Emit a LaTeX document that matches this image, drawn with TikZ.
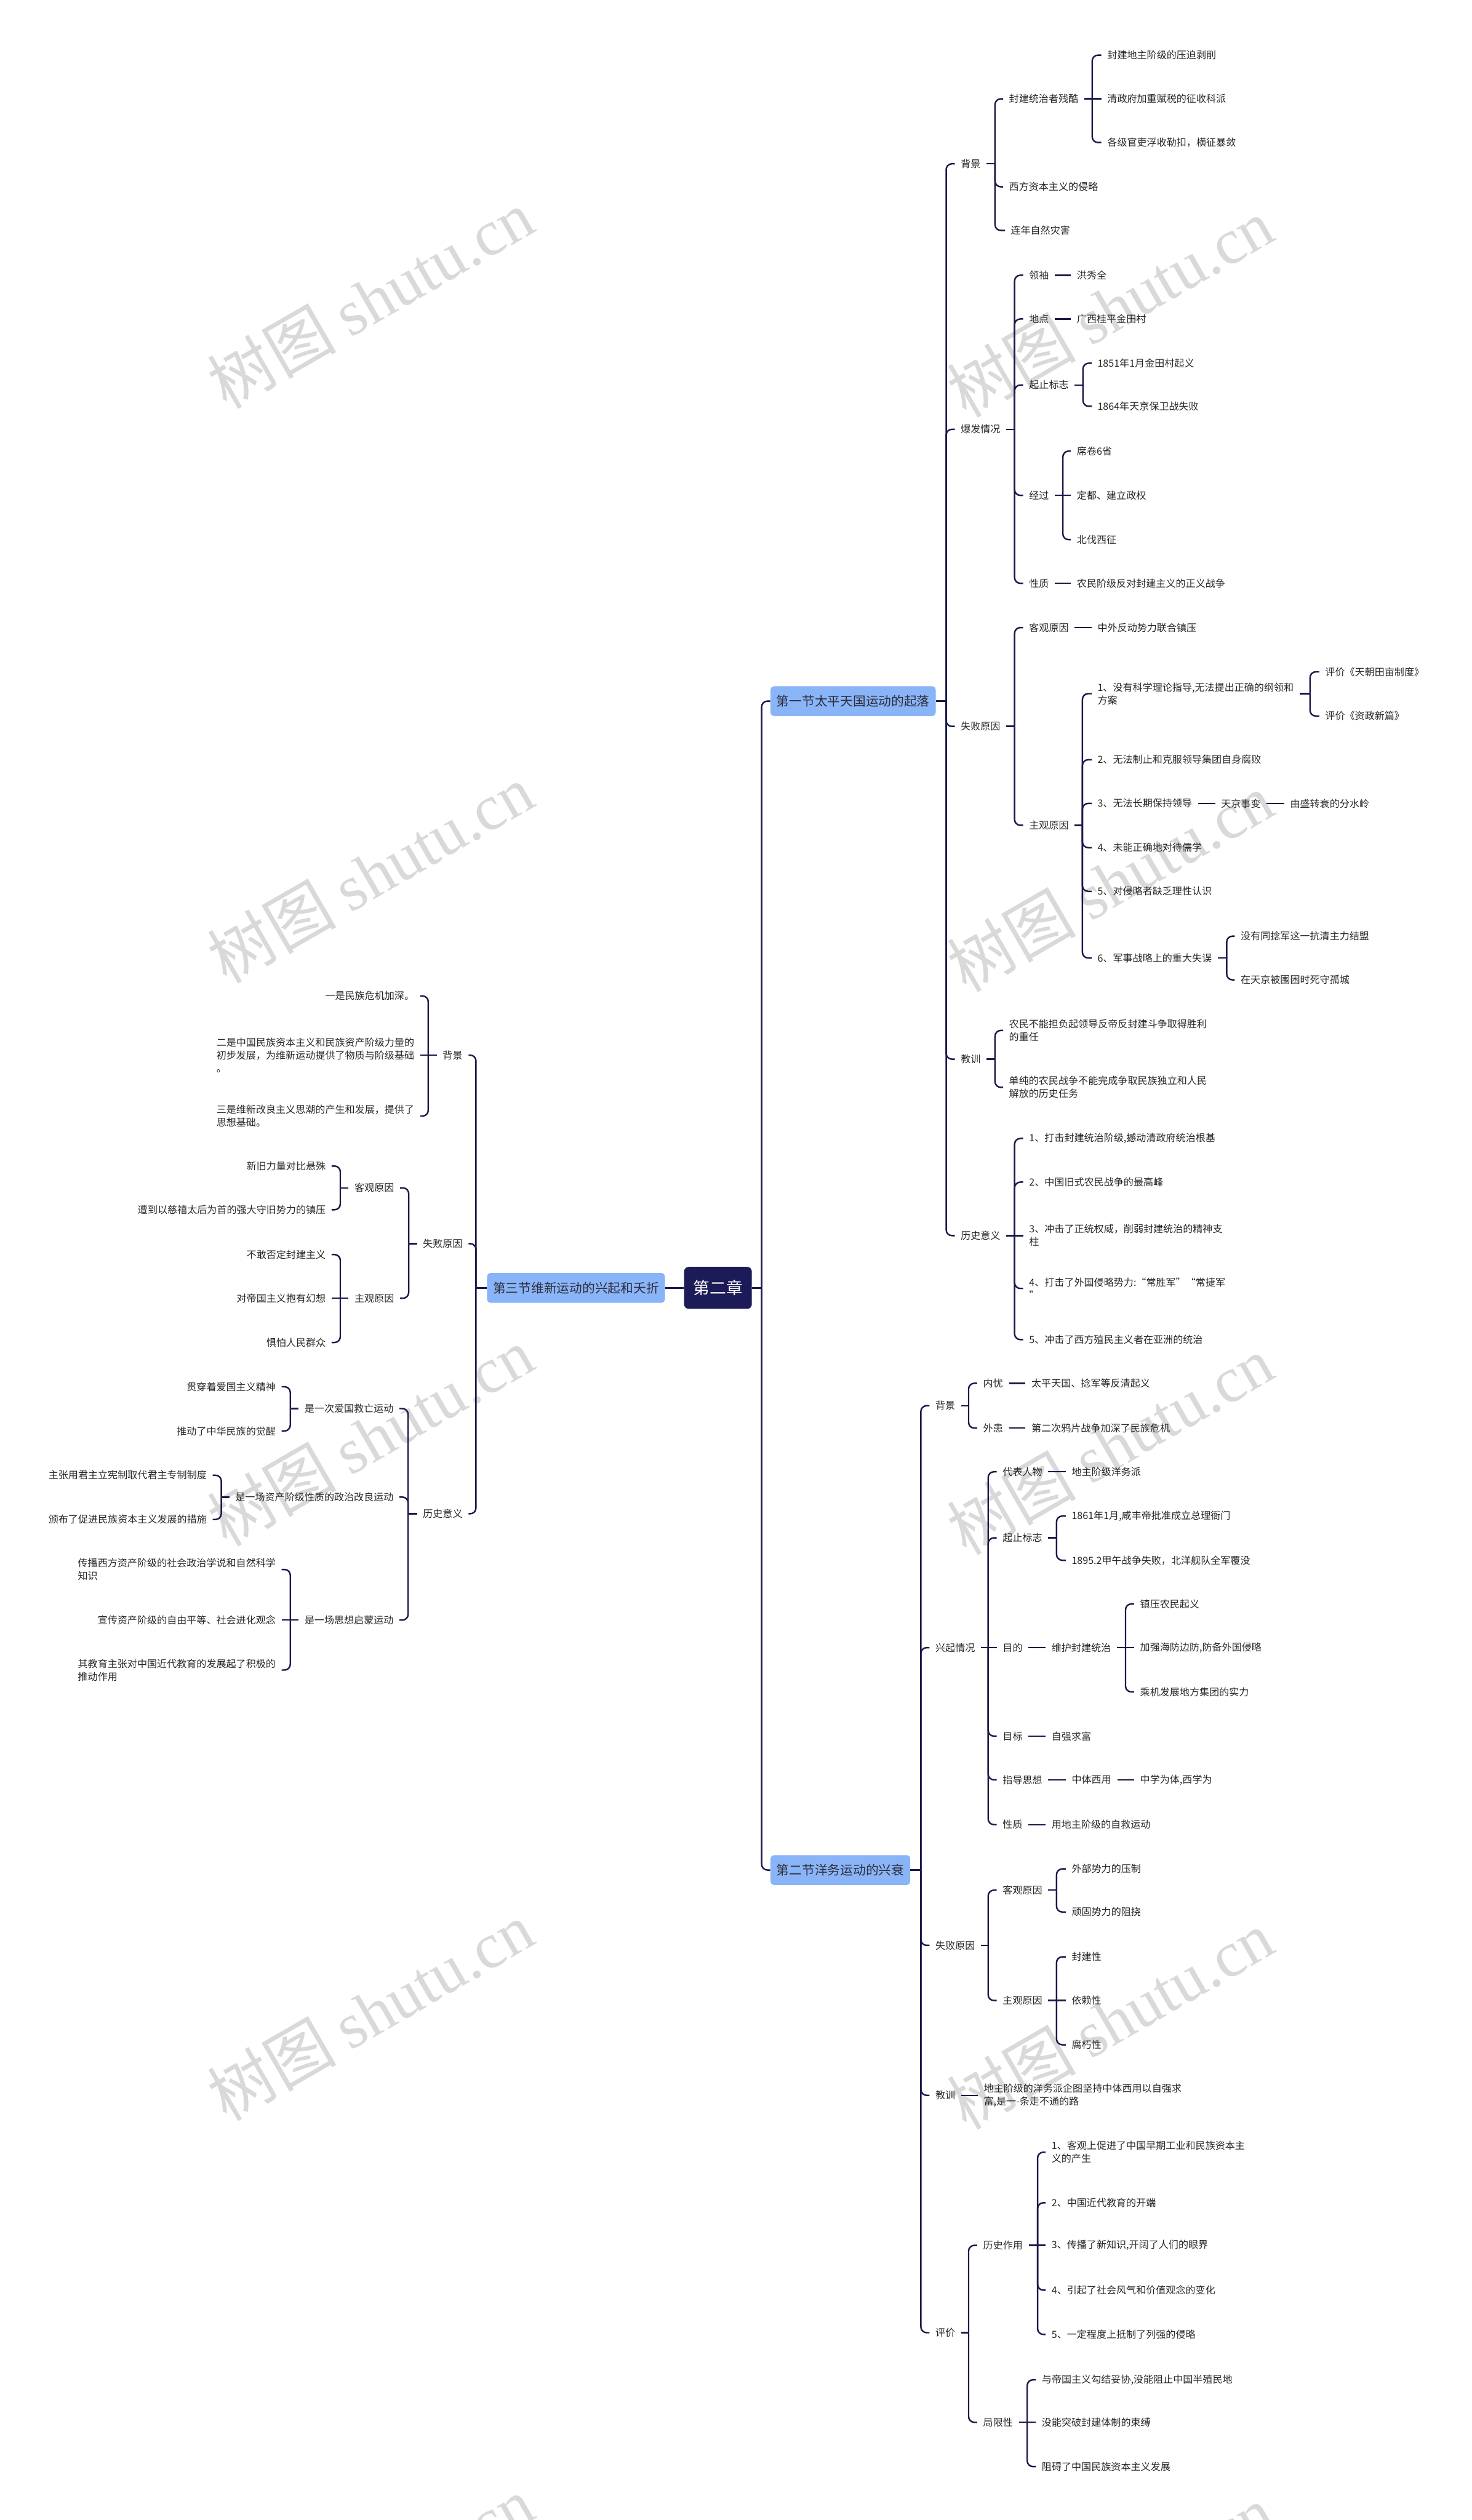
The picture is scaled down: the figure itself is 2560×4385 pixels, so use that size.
\documentclass[tikz,border=0pt]{standalone}
\usepackage{fontspec}
\setmainfont{Noto Sans CJK SC}
\newfontfamily\wmfont{Liberation Serif}
\definecolor{lc}{HTML}{1B1A4A}
\definecolor{tc}{HTML}{262626}
\definecolor{secc}{HTML}{8AB4F8}
\definecolor{sectc}{HTML}{2D2D3A}
\definecolor{rootc}{HTML}{1C1B57}
\newcommand\fs{\fontsize{8.6pt}{11.25pt}\selectfont}
\newcommand\fsec{\fontsize{11.1pt}{13pt}\selectfont}
\newcommand\froot{\fontsize{14.3pt}{16pt}\selectfont}
\newcommand\fwm{\fontsize{56pt}{60pt}\selectfont}
\tikzset{
  con/.style={draw=lc, line width=1.3pt},
  txt/.style={inner sep=0pt, font=\fs, text=tc, align=left},
  tr/.style={txt, anchor=west},
  tl/.style={txt, anchor=east},
  sec/.style={fill=secc, rounded corners=3pt, inner xsep=5.25pt, inner ysep=0pt, minimum height=26pt, font=\fsec, text=sectc},
  rootbox/.style={fill=rootc, rounded corners=4pt, inner xsep=8pt, inner ysep=0pt, minimum height=36.5pt, font=\froot, text=white},
  wm/.style={inner sep=0pt, text=black!15, font=\fwm, rotate=30}
}
% right-hand forks
\newcommand\spineR[3]{\coordinate (#1S) at (#2,0);\draw[con] ([xshift=#3]#1.east) -- (#1S |- #1.east);}
\newcommand\kidC[2]{\draw[con,rounded corners=5pt] (#1S |- #1.east) -- (#1S |- #2.west) -- ([xshift=-5pt]#2.west);}
\newcommand\kidS[2]{\draw[con] (#1S |- #1.east) -- ([xshift=-5pt]#2.west);}
\newcommand\link[2]{\draw[con] ([xshift=5pt]#1.east) -- ([xshift=-5pt]#2.west);}
% left-hand forks
\newcommand\spineL[3]{\coordinate (#1S) at (#2,0);\draw[con] ([xshift=-#3]#1.west) -- (#1S |- #1.west);}
\newcommand\kidCL[2]{\draw[con,rounded corners=5pt] (#1S |- #1.west) -- (#1S |- #2.east) -- ([xshift=5pt]#2.east);}
\newcommand\kidSL[2]{\draw[con] (#1S |- #1.west) -- ([xshift=5pt]#2.east);}
\begin{document}
\begin{tikzpicture}[x=0.5pt,y=-0.5pt]
\useasboundingbox (0,0) rectangle (2560,4385);
\fill[white] (0,0) rectangle (2560,4385);
% watermarks
\foreach \wy in {520,1520,2500,3500,4500}{
  \node[wm] at (644,\wy) {树图 {\wmfont shutu.cn}};
  \node[wm] at (1931,\wy+15) {树图 {\wmfont shutu.cn}};
}
% root and sections
\node[rootbox] (root) at (1249,2241) {第二章};
\node[sec, anchor=west] (s1) at (1340,1220) {第一节太平天国运动的起落};
\node[sec, anchor=west] (s2) at (1340,3254) {第二节洋务运动的兴衰};
\node[sec] (s3) at (1002,2241) {第三节维新运动的兴起和夭折};
\coordinate (mS) at (1325,0);
\draw[con] (root.east) -- (mS |- root.east);
\draw[con,rounded corners=5pt] (mS |- root.east) -- (mS |- s1.west) -- (s1.west);
\draw[con,rounded corners=5pt] (mS |- root.east) -- (mS |- s2.west) -- (s2.west);
\draw[con] (root.west) -- (s3.east);

% ---------- Section 1 ----------
\node[tr] (a1) at (1671,285) {背景};
\node[tr] (a11) at (1755,172) {封建统治者残酷};
\node[tr] (a111) at (1926,96) {封建地主阶级的压迫剥削};
\node[tr] (a112) at (1926,172) {清政府加重赋税的征收科派};
\node[tr] (a113) at (1926,248) {各级官吏浮收勒扣，横征暴敛};
\node[tr] (a12) at (1755,325) {西方资本主义的侵略};
\node[tr] (a13) at (1758,401) {连年自然灾害};
\node[tr] (a2) at (1671,747) {爆发情况};
\node[tr] (a21) at (1790,479) {领袖};
\node[tr] (a211) at (1873,479) {洪秀全};
\node[tr] (a22) at (1790,555) {地点};
\node[tr] (a221) at (1873,555) {广西桂平金田村};
\node[tr] (a23) at (1790,670) {起止标志};
\node[tr] (a231) at (1909,632) {1851年1月金田村起义};
\node[tr] (a232) at (1909,707) {1864年天京保卫战失败};
\node[tr] (a24) at (1790,862) {经过};
\node[tr] (a241) at (1873,785) {席卷6省};
\node[tr] (a242) at (1873,862) {定都、建立政权};
\node[tr] (a243) at (1873,939) {北伐西征};
\node[tr] (a25) at (1790,1015) {性质};
\node[tr] (a251) at (1873,1015) {农民阶级反对封建主义的正义战争};
\node[tr] (a3) at (1671,1264) {失败原因};
\node[tr] (a31) at (1790,1092) {客观原因};
\node[tr] (a311) at (1909,1092) {中外反动势力联合镇压};
\node[tr] (a32) at (1790,1436) {主观原因};
\node[tr] (a321) at (1909,1207) {1、没有科学理论指导,无法提出正确的纲领和\\方案};
\node[tr] (a3211) at (2305,1169) {评价《天朝田亩制度》};
\node[tr] (a3212) at (2305,1246) {评价《资政新篇》};
\node[tr] (a322) at (1909,1322) {2、无法制止和克服领导集团自身腐败};
\node[tr] (a323) at (1909,1398) {3、无法长期保持领导};
\node[tr] (a3231) at (2124,1398) {天京事变};
\node[tr] (a3232) at (2244,1398) {由盛转衰的分水岭};
\node[tr] (a324) at (1909,1475) {4、未能正确地对待儒学};
\node[tr] (a325) at (1909,1551) {5、对侵略者缺乏理性认识};
\node[tr] (a326) at (1909,1667) {6、军事战略上的重大失误};
\node[tr] (a3261) at (2158,1629) {没有同捻军这一抗清主力结盟};
\node[tr] (a3262) at (2158,1705) {在天京被围困时死守孤城};
\node[tr] (a4) at (1671,1843) {教训};
\node[tr] (a41) at (1755,1793) {农民不能担负起领导反帝反封建斗争取得胜利\\的重任};
\node[tr] (a42) at (1755,1892) {单纯的农民战争不能完成争取民族独立和人民\\解放的历史任务};
\node[tr] (a5) at (1671,2150) {历史意义};
\node[tr] (a51) at (1790,1981) {1、打击封建统治阶级,撼动清政府统治根基};
\node[tr] (a52) at (1790,2057) {2、中国旧式农民战争的最高峰};
\node[tr] (a53) at (1790,2150) {3、冲击了正统权威，削弱封建统治的精神支\\柱};
\node[tr] (a54) at (1790,2242) {4、打击了外国侵略势力:“常胜军”“常捷军\\”};
\node[tr] (a55) at (1790,2331) {5、冲击了西方殖民主义者在亚洲的统治};

\spineR{s1}{1646}{0pt}
\kidC{s1}{a1}\kidC{s1}{a2}\kidC{s1}{a3}\kidC{s1}{a4}\kidC{s1}{a5}
\spineR{a1}{1731}{5pt}
\kidC{a1}{a11}\kidC{a1}{a12}\kidC{a1}{a13}
\spineR{a11}{1900}{5pt}
\kidC{a11}{a111}\kidS{a11}{a112}\kidC{a11}{a113}
\spineR{a2}{1765}{5pt}
\kidC{a2}{a21}\kidC{a2}{a22}\kidC{a2}{a23}\kidC{a2}{a24}\kidC{a2}{a25}
\link{a21}{a211}\link{a22}{a221}
\spineR{a23}{1884}{5pt}
\kidC{a23}{a231}\kidC{a23}{a232}
\spineR{a24}{1849}{5pt}
\kidC{a24}{a241}\kidS{a24}{a242}\kidC{a24}{a243}
\link{a25}{a251}
\spineR{a3}{1765}{5pt}
\kidC{a3}{a31}\kidC{a3}{a32}
\link{a31}{a311}
\spineR{a32}{1883}{5pt}
\kidC{a32}{a321}\kidC{a32}{a322}\kidC{a32}{a323}\kidC{a32}{a324}\kidC{a32}{a325}\kidC{a32}{a326}
\spineR{a321}{2279}{5pt}
\kidC{a321}{a3211}\kidC{a321}{a3212}
\link{a323}{a3231}\link{a3231}{a3232}
\spineR{a326}{2134}{5pt}
\kidC{a326}{a3261}\kidC{a326}{a3262}
\spineR{a4}{1731}{5pt}
\kidC{a4}{a41}\kidC{a4}{a42}
\spineR{a5}{1765}{5pt}
\kidC{a5}{a51}\kidC{a5}{a52}\kidS{a5}{a53}\kidC{a5}{a54}\kidC{a5}{a55}

% ---------- Section 2 ----------
\node[tr] (b1) at (1627,2446) {背景};
\node[tr] (b11) at (1710,2407) {内忧};
\node[tr] (b111) at (1794,2407) {太平天国、捻军等反清起义};
\node[tr] (b12) at (1710,2485) {外患};
\node[tr] (b121) at (1794,2485) {第二次鸦片战争加深了民族危机};
\node[tr] (b2) at (1627,2867) {兴起情况};
\node[tr] (b21) at (1744,2561) {代表人物};
\node[tr] (b211) at (1864,2561) {地主阶级洋务派};
\node[tr] (b22) at (1744,2676) {起止标志};
\node[tr] (b221) at (1864,2638) {1861年1月,咸丰帝批准成立总理衙门};
\node[tr] (b222) at (1864,2715) {1895.2甲午战争失败，北洋舰队全军覆没};
\node[tr] (b23) at (1744,2867) {目的};
\node[tr] (b231) at (1829,2867) {维护封建统治};
\node[tr] (b2311) at (1983,2791) {镇压农民起义};
\node[tr] (b2312) at (1983,2867) {加强海防边防,防备外国侵略};
\node[tr] (b2313) at (1983,2944) {乘机发展地方集团的实力};
\node[tr] (b24) at (1744,3021) {目标};
\node[tr] (b241) at (1829,3021) {自强求富};
\node[tr] (b25) at (1744,3097) {指导思想};
\node[tr] (b251) at (1864,3097) {中体西用};
\node[tr] (b252) at (1983,3097) {中学为体,西学为};
\node[tr] (b26) at (1744,3175) {性质};
\node[tr] (b261) at (1829,3175) {用地主阶级的自救运动};
\node[tr] (b3) at (1627,3385) {失败原因};
\node[tr] (b31) at (1744,3289) {客观原因};
\node[tr] (b311) at (1864,3252) {外部势力的压制};
\node[tr] (b312) at (1864,3327) {顽固势力的阻挠};
\node[tr] (b32) at (1744,3481) {主观原因};
\node[tr] (b321) at (1864,3405) {封建性};
\node[tr] (b322) at (1864,3481) {依赖性};
\node[tr] (b323) at (1864,3558) {腐朽性};
\node[tr] (b4) at (1627,3646) {教训};
\node[tr] (b41) at (1711,3646) {地主阶级的洋务派企图坚持中体西用以自强求\\富,是一-条走不通的路};
\node[tr] (b5) at (1627,4059) {评价};
\node[tr] (b51) at (1710,3907) {历史作用};
\node[tr] (b511) at (1829,3745) {1、客观上促进了中国早期工业和民族资本主\\义的产生};
\node[tr] (b512) at (1829,3833) {2、中国近代教育的开端};
\node[tr] (b513) at (1829,3907) {3、传播了新知识,开阔了人们的眼界};
\node[tr] (b514) at (1829,3985) {4、引起了社会风气和价值观念的变化};
\node[tr] (b515) at (1829,4062) {5、一定程度上抵制了列强的侵略};
\node[tr] (b52) at (1710,4215) {局限性};
\node[tr] (b521) at (1812,4141) {与帝国主义勾结妥协,没能阻止中国半殖民地};
\node[tr] (b522) at (1812,4215) {没能突破封建体制的束缚};
\node[tr] (b523) at (1812,4292) {阻碍了中国民族资本主义发展};

\spineR{s2}{1602}{0pt}
\kidC{s2}{b1}\kidC{s2}{b2}\kidC{s2}{b3}\kidC{s2}{b4}\kidC{s2}{b5}
\spineR{b1}{1685}{5pt}
\kidC{b1}{b11}\kidC{b1}{b12}
\link{b11}{b111}\link{b12}{b121}
\spineR{b2}{1719}{5pt}
\kidC{b2}{b21}\kidC{b2}{b22}\kidS{b2}{b23}\kidC{b2}{b24}\kidC{b2}{b25}\kidC{b2}{b26}
\link{b21}{b211}
\spineR{b22}{1838}{5pt}
\kidC{b22}{b221}\kidC{b22}{b222}
\link{b23}{b231}
\spineR{b231}{1958}{5pt}
\kidC{b231}{b2311}\kidS{b231}{b2312}\kidC{b231}{b2313}
\link{b24}{b241}\link{b25}{b251}\link{b251}{b252}\link{b26}{b261}
\spineR{b3}{1719}{5pt}
\kidC{b3}{b31}\kidC{b3}{b32}
\spineR{b31}{1838}{5pt}
\kidC{b31}{b311}\kidC{b31}{b312}
\spineR{b32}{1838}{5pt}
\kidC{b32}{b321}\kidS{b32}{b322}\kidC{b32}{b323}
\link{b4}{b41}
\spineR{b5}{1685}{5pt}
\kidC{b5}{b51}\kidC{b5}{b52}
\spineR{b51}{1805}{5pt}
\kidC{b51}{b511}\kidC{b51}{b512}\kidS{b51}{b513}\kidC{b51}{b514}\kidC{b51}{b515}
\spineR{b52}{1787}{5pt}
\kidC{b52}{b521}\kidS{b52}{b522}\kidC{b52}{b523}

% ---------- Section 3 (left) ----------
\node[tl] (c1) at (805,1836) {背景};
\node[tl] (c11) at (721,1733) {一是民族危机加深。};
\node[tl] (c12) at (721,1836) {二是中国民族资本主义和民族资产阶级力量的\\初步发展，为维新运动提供了物质与阶级基础\\。};
\node[tl] (c13) at (721,1942) {三是维新改良主义思潮的产生和发展，提供了\\思想基础。};
\node[tl] (c2) at (805,2164) {失败原因};
\node[tl] (c21) at (686,2067) {客观原因};
\node[tl] (c211) at (567,2029) {新旧力量对比悬殊};
\node[tl] (c212) at (567,2105) {遭到以慈禧太后为首的强大守旧势力的镇压};
\node[tl] (c22) at (686,2259) {主观原因};
\node[tl] (c221) at (567,2183) {不敢否定封建主义};
\node[tl] (c222) at (567,2259) {对帝国主义抱有幻想};
\node[tl] (c223) at (567,2336) {惧怕人民群众};
\node[tl] (c3) at (805,2634) {历史意义};
\node[tl] (c31) at (685,2451) {是一次爱国救亡运动};
\node[tl] (c311) at (480,2413) {贯穿着爱国主义精神};
\node[tl] (c312) at (480,2490) {推动了中华民族的觉醒};
\node[tl] (c32) at (685,2605) {是一场资产阶级性质的政治改良运动};
\node[tl] (c321) at (360,2567) {主张用君主立宪制取代君主专制制度};
\node[tl] (c322) at (360,2644) {颁布了促进民族资本主义发展的措施};
\node[tl] (c33) at (685,2819) {是一场思想启蒙运动};
\node[tl] (c331) at (480,2731) {传播西方资产阶级的社会政治学说和自然科学\\知识};
\node[tl] (c332) at (480,2819) {宣传资产阶级的自由平等、社会进化观念};
\node[tl] (c333) at (480,2906) {其教育主张对中国近代教育的发展起了积极的\\推动作用};

\spineL{s3}{828}{0pt}
\kidCL{s3}{c1}\kidCL{s3}{c2}\kidCL{s3}{c3}
\spineL{c1}{745}{5pt}
\kidCL{c1}{c11}\kidSL{c1}{c12}\kidCL{c1}{c13}
\spineL{c2}{711}{5pt}
\kidCL{c2}{c21}\kidCL{c2}{c22}
\spineL{c21}{592}{5pt}
\kidCL{c21}{c211}\kidCL{c21}{c212}
\spineL{c22}{592}{5pt}
\kidCL{c22}{c221}\kidSL{c22}{c222}\kidCL{c22}{c223}
\spineL{c3}{710}{5pt}
\kidCL{c3}{c31}\kidCL{c3}{c32}\kidCL{c3}{c33}
\spineL{c31}{505}{5pt}
\kidCL{c31}{c311}\kidCL{c31}{c312}
\spineL{c32}{385}{5pt}
\kidCL{c32}{c321}\kidCL{c32}{c322}
\spineL{c33}{505}{5pt}
\kidCL{c33}{c331}\kidSL{c33}{c332}\kidCL{c33}{c333}
\end{tikzpicture}
\end{document}
